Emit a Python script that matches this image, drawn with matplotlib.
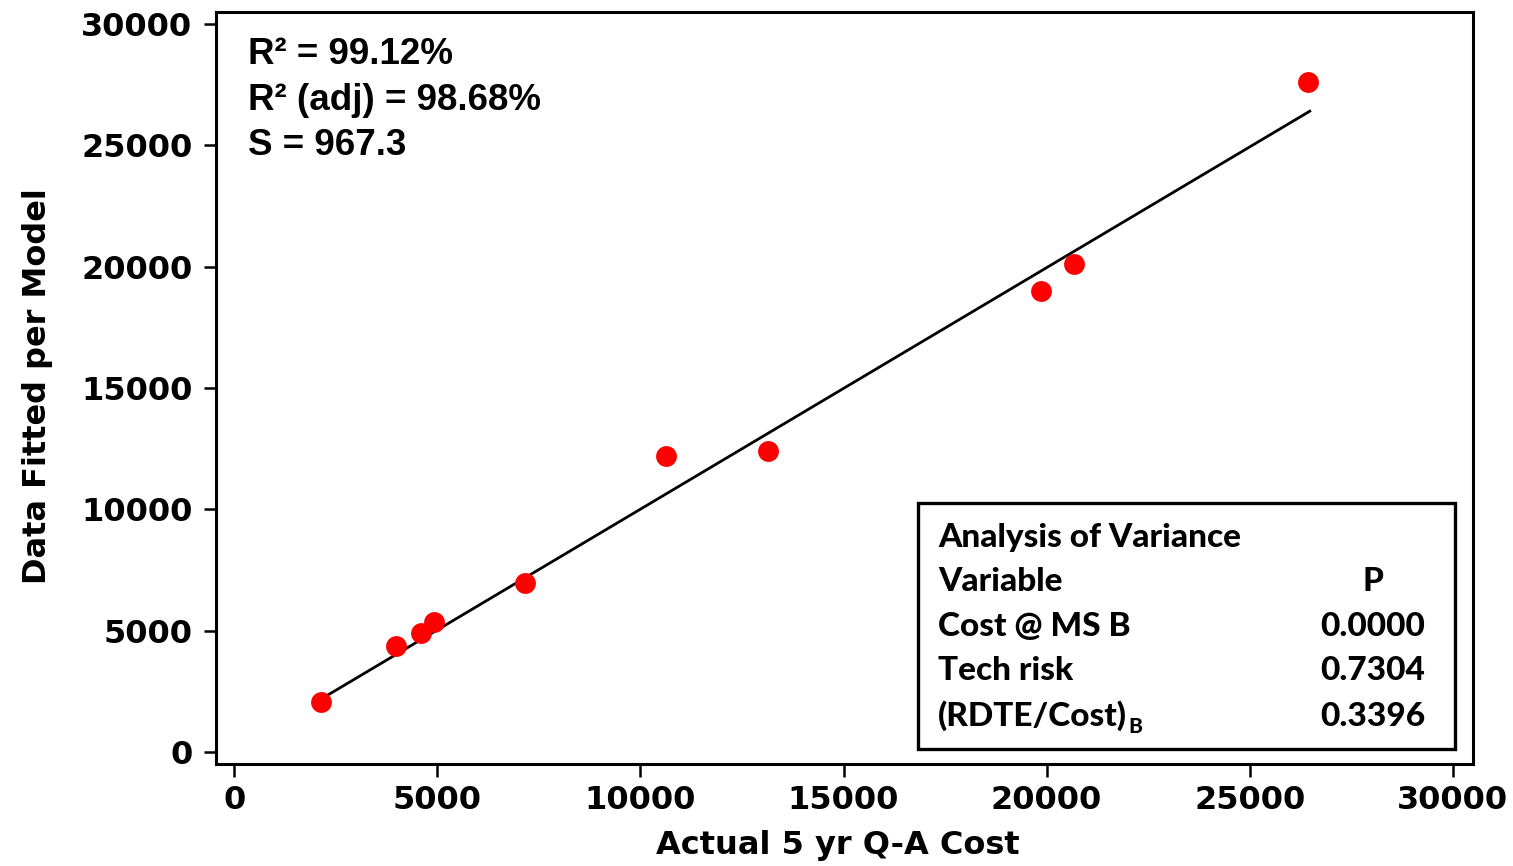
import matplotlib
matplotlib.use('Agg')
import matplotlib.pyplot as plt
from matplotlib.patches import Rectangle

# actual vs model-fitted 5 yr Q-A cost
actual_cost = [2140, 3990, 4600, 4920, 7160, 10630, 13140, 19860, 20670, 26430]
fitted_cost = [2060, 4370, 4900, 5360, 6960, 12200, 12400, 19000, 20110, 27610]
# fitted line end points
line_x = [2310, 26480]
line_y = [2350, 26410]

stats_lines = ['R² = 99.12%', 'R² (adj) = 98.68%', 'S = 967.3']
anova_vars = ['Cost @ MS B', 'Tech risk', '(RDTE/Cost)']
anova_p = ['0.0000', '0.7304', '0.3396']
ticks = [0, 5000, 10000, 15000, 20000, 25000, 30000]

fig = plt.figure(figsize=(15.13, 8.66), dpi=100)
ax = fig.add_axes([0.1428, 0.1178, 0.8308, 0.8684])

ax.plot(line_x, line_y, color='black', linewidth=2.0, zorder=2)
ax.plot(actual_cost, fitted_cost, 'o', color='#ff0000', markersize=15,
        markeredgewidth=0, zorder=3)

ax.set_xlim(-450, 30500)
ax.set_ylim(-500, 30500)
ax.set_xticks(ticks)
ax.set_yticks(ticks)
for s in ax.spines.values():
    s.set_linewidth(2.2)
ax.tick_params(axis='both', direction='out', length=9, width=1.8)
ax.tick_params(axis='x', pad=6)
ax.tick_params(axis='y', pad=8)
for lab in ax.get_xticklabels() + ax.get_yticklabels():
    lab.set_fontfamily('DejaVu Sans')
    lab.set_fontweight('bold')
    lab.set_fontsize(23)

ax.set_xlabel('Actual 5 yr Q-A Cost', fontsize=23, fontweight='bold',
              family='DejaVu Sans')
ax.set_ylabel('Data Fitted per Model', fontsize=23, fontweight='bold',
              family='DejaVu Sans')
ax.xaxis.set_label_coords(0.495, -0.088)
ax.yaxis.set_label_coords(-0.1297, 0.503)

# regression summary
for i, s in enumerate(stats_lines):
    ax.text(0.0255, 0.943 - i * 0.0605, s, transform=ax.transAxes,
            fontsize=26.5, fontweight='bold', family='Liberation Sans',
            ha='left', va='center')

# ANOVA table
ax.add_patch(Rectangle((0.5585, 0.020), 0.4272, 0.327, transform=ax.transAxes,
                       fill=False, edgecolor='black', linewidth=2.4, zorder=4))
tfont = dict(fontsize=24, fontweight='black', family=['Lato', 'DejaVu Sans'],
             transform=ax.transAxes, va='center')
ax.text(0.5744, 0.3005, 'Analysis of Variance', ha='left', **tfont)
ax.text(0.5744, 0.2420, 'Variable', ha='left', **tfont)
ax.text(0.9205, 0.2420, 'P', ha='center', **tfont)
rows_y = [0.1822, 0.1237, 0.0638]
for name, p, y in zip(anova_vars, anova_p, rows_y):
    t = ax.text(0.5744, y, name, ha='left', **tfont)
    ax.text(0.9618, y, p, ha='right', **tfont)
ax.annotate('B', xy=(1.0, 0.0), xycoords=t, xytext=(1, -3),
            textcoords='offset points', fontsize=15, fontweight='black',
            family='Lato', ha='left', va='bottom')

fig.savefig('out.png', dpi=100)
